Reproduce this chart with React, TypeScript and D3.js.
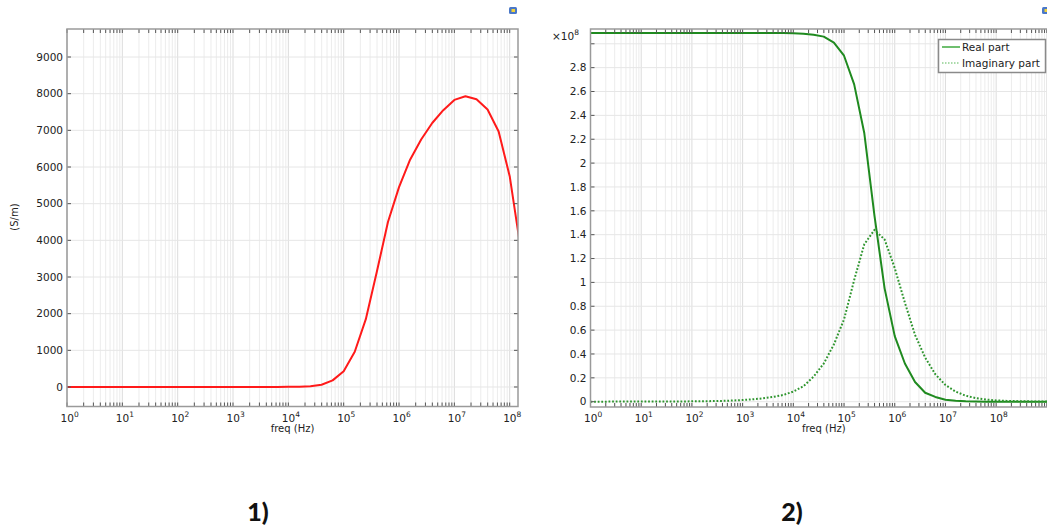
import React from 'react';
import * as d3 from 'd3';

// sample frequencies: exponents of 10 (Hz)
const freqExponents = [
  0, 0.2, 0.4, 0.6, 0.8, 1, 1.2, 1.4, 1.6, 1.8, 2, 2.2, 2.4, 2.6, 2.8, 3, 3.2, 3.4, 3.6, 3.8,
  4, 4.2, 4.4, 4.6, 4.8, 5, 5.2, 5.4, 5.6, 5.8, 6, 6.2, 6.4, 6.6, 6.8, 7, 7.2, 7.4, 7.6, 7.8,
  8, 8.2, 8.4, 8.6, 8.8, 9, 9.2,
];

// panel 1: conductivity (S/m)
const conductivity = [
  0, 0, 0, 0, 0, 0, 0, 0, 0, 0, 0, 0, 0, 0, 0, 0, 0, 0, 0, 2,
  5, 10, 20, 60, 180, 430, 960, 1850, 3150, 4500, 5450, 6200, 6750, 7200, 7550, 7830, 7930, 7850, 7570, 6970,
  5750, 3750,
];

// panel 2: x1e8
const realPart = [
  3.09, 3.09, 3.09, 3.09, 3.09, 3.09, 3.09, 3.09, 3.09, 3.09, 3.09, 3.09, 3.09, 3.09, 3.09, 3.09, 3.09, 3.09, 3.09, 3.09,
  3.088, 3.085, 3.075, 3.06, 3.01, 2.9, 2.66, 2.25, 1.56, 0.95, 0.55, 0.32, 0.165, 0.075, 0.04, 0.017, 0.008, 0.003, 0.001, 0,
  0, 0, 0, 0, 0, 0, 0,
];
const imagPart = [
  0, 0, 0.001, 0.001, 0.001, 0.001, 0.001, 0.002, 0.002, 0.002, 0.003, 0.004, 0.005, 0.007, 0.01, 0.014, 0.02, 0.028, 0.04, 0.056,
  0.085, 0.13, 0.21, 0.32, 0.48, 0.69, 1.02, 1.32, 1.44, 1.36, 1.12, 0.83, 0.56, 0.37, 0.23, 0.14, 0.085, 0.05, 0.03, 0.018,
  0.011, 0.007, 0.005, 0.003, 0.002, 0.001, 0.001,
];

const xLabelDecadesLeft = [0, 1, 2, 3, 4, 5, 6, 7, 8];
const xLabelDecadesRight = [0, 1, 2, 3, 4, 5, 6, 7, 8];
const yTicksLeft = [0, 1000, 2000, 3000, 4000, 5000, 6000, 7000, 8000, 9000];
const yLabelsLeft = ['0', '1000', '2000', '3000', '4000', '5000', '6000', '7000', '8000', '9000'];
const yTicksRight = [0, 0.2, 0.4, 0.6, 0.8, 1, 1.2, 1.4, 1.6, 1.8, 2, 2.2, 2.4, 2.6, 2.8, 3];
const yLabelsRight = ['0', '0.2', '0.4', '0.6', '0.8', '1', '1.2', '1.4', '1.6', '1.8', '2', '2.2', '2.4', '2.6', '2.8', ''];

const FONT = 'DejaVu Sans, Verdana, sans-serif';

type Series = { values: number[]; color: string; width: number; dash?: string };

function Panel(props: {
  id: string;
  x0: number; x1: number; top: number; bottom: number;
  maxExp: number;
  yDomain: [number, number];
  yTicks: number[]; yLabels: string[];
  xLabels: number[];
  series: Series[];
}) {
  const { id, x0, x1, top, bottom, maxExp, yDomain, yTicks, yLabels, xLabels, series } = props;
  const xs = d3.scaleLog().domain([1, Math.pow(10, maxExp)]).range([x0, x1]);
  const ys = d3.scaleLinear().domain(yDomain).range([bottom, top]);

  const gridX: { v: number; major: boolean }[] = [];
  for (let k = 0; k <= Math.ceil(maxExp); k++) {
    for (let m = 1; m <= 9; m++) {
      const v = m * Math.pow(10, k);
      if (Math.log10(v) <= maxExp + 1e-9) gridX.push({ v, major: m === 1 });
    }
  }
  const line = d3
    .line<number>()
    .x((_, i) => xs(Math.pow(10, freqExponents[i])))
    .y((d) => ys(d));

  return (
    <g>
      <defs>
        <clipPath id={id}>
          <rect x={x0} y={top} width={x1 - x0} height={bottom - top} />
        </clipPath>
      </defs>
      <rect x={x0} y={top} width={x1 - x0} height={bottom - top} fill="#fff" />
      {gridX.map((g, i) => (
        <line key={'gx' + i} x1={xs(g.v)} x2={xs(g.v)} y1={top} y2={bottom}
          stroke={g.major ? '#dcdcdc' : '#ececec'} strokeWidth={1} />
      ))}
      {yTicks.map((t, i) => (
        <line key={'gy' + i} x1={x0} x2={x1} y1={ys(t)} y2={ys(t)} stroke="#e6e6e6" strokeWidth={1} />
      ))}
      <g clipPath={`url(#${id})`}>
        {series.map((s, i) => (
          <path key={'s' + i} d={line(s.values) || ''} fill="none" stroke={s.color}
            strokeWidth={s.width} strokeDasharray={s.dash} strokeLinejoin="round" />
        ))}
      </g>
      {/* x ticks top & bottom */}
      {gridX.map((g, i) => (
        <g key={'tx' + i}>
          <line x1={xs(g.v)} x2={xs(g.v)} y1={bottom} y2={bottom - 4} stroke="#555" strokeWidth={1} />
          <line x1={xs(g.v)} x2={xs(g.v)} y1={top} y2={top + 4} stroke="#555" strokeWidth={1} />
        </g>
      ))}
      {/* y ticks left & right */}
      {yTicks.map((t, i) => (
        <g key={'ty' + i}>
          <line x1={x0} x2={x0 + 4} y1={ys(t)} y2={ys(t)} stroke="#555" strokeWidth={1} />
          <line x1={x1} x2={x1 - 4} y1={ys(t)} y2={ys(t)} stroke="#555" strokeWidth={1} />
        </g>
      ))}
      <rect x={x0} y={top} width={x1 - x0} height={bottom - top} fill="none" stroke="#9a9a9a" strokeWidth={1.5} />
      {yTicks.map((t, i) => (
        <text key={'ly' + i} x={x0 - 4} y={ys(t)} dy="0.36em" textAnchor="end"
          fontFamily={FONT} fontSize={10.5} fill="#222">{yLabels[i]}</text>
      ))}
      {xLabels.map((k) => (
        <text key={'lx' + k} x={xs(Math.pow(10, k)) - 6.5} y={bottom + 15} textAnchor="start"
          fontFamily={FONT} fontSize={10.5} fill="#222">
          10<tspan dy={-5} fontSize={7.5}>{k}</tspan>
        </text>
      ))}
      <text x={(x0 + x1) / 2} y={bottom + 25} textAnchor="middle" fontFamily={FONT} fontSize={10} fill="#222">
        freq (Hz)
      </text>
    </g>
  );
}

function Icon({ x, y }: { x: number; y: number }) {
  return (
    <g>
      <rect x={x} y={y} width={8} height={7} rx={1.5} fill="#4a78c8" />
      <rect x={x + 2.5} y={y + 2} width={3.5} height={3} fill="#f2d23a" />
    </g>
  );
}

export default function App() {
  return (
    <svg width={1047} height={528} style={{ position: 'absolute', left: 0, top: 0, background: '#fff' }}>
      <rect x={0} y={0} width={1047} height={528} fill="#fff" />
      <Icon x={509} y={7} />
      <Icon x={1042} y={7} />
      <Panel
        id="clipA" x0={67} x1={518} top={29} bottom={406.5} maxExp={8.15}
        yDomain={[-532, 9764]} yTicks={yTicksLeft} yLabels={yLabelsLeft} xLabels={xLabelDecadesLeft}
        series={[{ values: conductivity, color: '#ff1a1a', width: 2 }]}
      />
      <text transform="translate(18,217) rotate(-90)" textAnchor="middle" fontFamily={FONT} fontSize={10} fill="#222">
        (S/m)
      </text>
      <Panel
        id="clipB" x0={590.5} x1={1057} top={29} bottom={407} maxExp={9.2}
        yDomain={[-0.0444, 3.124]} yTicks={yTicksRight} yLabels={yLabelsRight} xLabels={xLabelDecadesRight}
        series={[
          { values: realPart, color: '#1f8a1f', width: 2 },
          { values: imagPart, color: '#2e952e', width: 2, dash: '1.8 1.8' },
        ]}
      />
      <text x={552} y={40} fontFamily={FONT} fontSize={10.5} fill="#222">
        ×10<tspan dy={-5} fontSize={7.5}>8</tspan>
      </text>
      {/* legend */}
      <g>
        <rect x={938.5} y={39.5} width={107} height={33} fill="#fff" stroke="#8a8a8a" strokeWidth={1.5} />
        <line x1={942} x2={960} y1={47} y2={47} stroke="#6fbf6f" strokeWidth={2} />
        <text x={962} y={47} dy="0.36em" fontFamily={FONT} fontSize={10.5} fill="#222">Real part</text>
        <line x1={942} x2={960} y1={63} y2={63} stroke="#8fcf8f" strokeWidth={1.5} strokeDasharray="1.5 1.5" />
        <text x={962} y={63} dy="0.36em" fontFamily={FONT} fontSize={10.5} fill="#222">Imaginary part</text>
      </g>
      <text x={258} y={521} textAnchor="middle" fontFamily="Lato, Open Sans, sans-serif" fontWeight={900} fontSize={25} fill="#111">
        1)
      </text>
      <text x={792} y={521} textAnchor="middle" fontFamily="Lato, Open Sans, sans-serif" fontWeight={900} fontSize={25} fill="#111">
        2)
      </text>
    </svg>
  );
}
